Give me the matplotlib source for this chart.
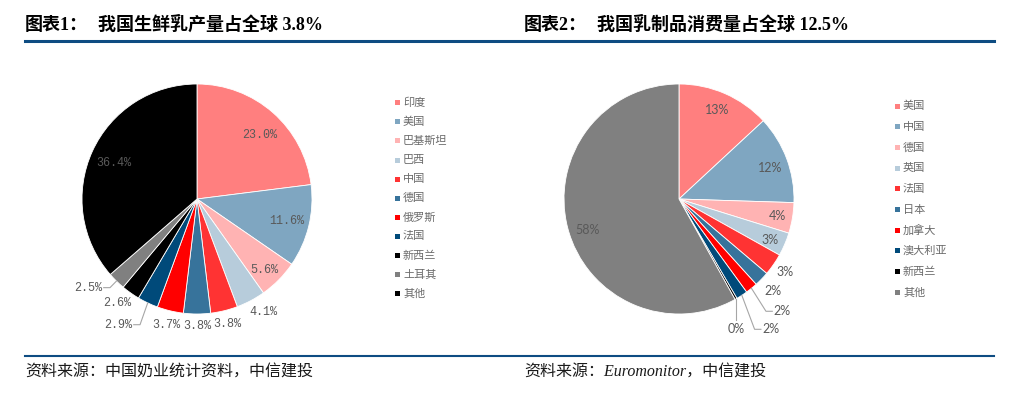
import numpy as np
import matplotlib.pyplot as plt
from matplotlib.lines import Line2D
from matplotlib.patches import Rectangle

# ---------------- 数据 ----------------
labels1 = ["印度", "美国", "巴基斯坦", "巴西", "中国", "德国", "俄罗斯",
           "法国", "新西兰", "土耳其", "其他"]
values1 = [23.0, 11.6, 5.6, 4.1, 3.8, 3.8, 3.7, 2.9, 2.6, 2.5, 36.4]

labels2 = ["美国", "中国", "德国", "英国", "法国", "日本", "加拿大",
           "澳大利亚", "新西兰", "其他"]
values2 = [13.1, 12.4, 4.3, 3.3, 3.1, 2.1, 1.7, 1.6, 0.3, 58.1]

colors1 = ["#FF7F7F", "#7FA6C1", "#FFB3B3", "#B7CCDB", "#FF3333", "#37739B",
           "#FF0000", "#004A7A", "#000000", "#808080", "#000000"]
colors2 = ["#FF7F7F", "#7FA6C1", "#FFB3B3", "#B7CCDB", "#FF3333", "#37739B",
           "#FF0000", "#004A7A", "#000000", "#808080"]

# 标签摆放: (半径, 角度偏移, 方式)
spec1 = [(0.78, -3, "c"), (0.80, 0, "c"), (0.85, -2, "c"), (1.14, 2.5, "c"),
         (1.12, 0, "c"), (1.10, 0, "c"), (1.13, 0, "c"), (1.20, 1, "left"),
         (1.14, -2.3, "c"), (1.08, 0, "left"), (0.79, 1.3, "c")]
spec2 = [(0.84, 0, "c"), (0.84, -2, "c"), (0.87, -0.5, "c"), (0.87, -1, "c"),
         (1.12, 0.4, "c"), (1.14, -0.3, "c"), (1.235, -1.3, "right"),
         (1.31, -3, "right"), (1.165, -4.3, "down"), (0.84, 4, "c")]

W, H = 1019, 394
BLUE = "#0E4C82"
GREY = "#595959"
CJK = ["Liberation Serif", "Noto Sans CJK SC"]

fig = plt.figure(figsize=(W / 100, H / 100), dpi=100)


def fx(x):
    return x / W


def fy(y):
    return 1 - y / H


def pie_axes(cx, cy, r):
    half = 1.25 * r
    return fig.add_axes([fx(cx - half), fy(cy + half), 2 * half / W, 2 * half / H])


def polar(r, ang):
    a = np.deg2rad(ang)
    return r * np.cos(a), r * np.sin(a)


def draw_pie(ax, values, colors, spec, fmt, font, fsize):
    wedges, _ = ax.pie(values, colors=colors, startangle=90, counterclock=False,
                       wedgeprops=dict(edgecolor="white", linewidth=0.6))
    ax.set_xlim(-1.25, 1.25)
    ax.set_ylim(-1.25, 1.25)
    ax.set_aspect("equal")
    for w, v, (r, off, mode) in zip(wedges, values, spec):
        mid = (w.theta1 + w.theta2) / 2
        txt = fmt.format(v)
        kw = dict(fontsize=fsize, family=font, color=GREY)
        if mode == "c":
            x, y = polar(r, mid + off)
            ax.text(x, y, txt, ha="center", va="center", **kw)
            continue
        x0, y0 = polar(1.0, mid)
        x1, y1 = polar(r, mid + off)
        if mode == "left":
            ax.plot([x0, x1, x1 - 0.055], [y0, y1, y1], color="#A6A6A6", lw=0.8)
            ax.text(x1 - 0.065, y1, txt, ha="right", va="center", **kw)
        elif mode == "right":
            ax.plot([x0, x1, x1 + 0.055], [y0, y1, y1], color="#A6A6A6", lw=0.8)
            ax.text(x1 + 0.065, y1, txt, ha="left", va="center", **kw)
        else:
            ax.plot([x0, x0], [y0, y1], color="#A6A6A6", lw=0.8)
            ax.text(x0, y1 - 0.03, txt, ha="center", va="top", **kw)


def draw_legend(labels, colors, sq_x, txt_x, y0, dy):
    for i, (lab, c) in enumerate(zip(labels, colors)):
        y = y0 + i * dy
        fig.patches.append(Rectangle((fx(sq_x - 2.5), fy(y + 2.5)), 5 / W, 5 / H,
                                     transform=fig.transFigure, color=c, lw=0))
        fig.text(fx(txt_x), fy(y), lab, fontsize=8, family=["Noto Sans CJK SC"],
                 color="#6A6A6A", va="center", ha="left")


# ---------------- 图表1 ----------------
ax1 = pie_axes(197, 199, 115)
draw_pie(ax1, values1, colors1, spec1, "{:.1f}%", ["Liberation Mono"], 8.5)
draw_legend(labels1, colors1, 397.5, 403, 102.7, 19.1)

# ---------------- 图表2 ----------------
ax2 = pie_axes(679, 199, 115)
draw_pie(ax2, values2, colors2, spec2, "{:.0f}%", ["Lato", "DejaVu Sans"], 9)
draw_legend(labels2, colors2, 897.5, 903, 106, 20.7)

# ---------------- 标题、分隔线、来源 ----------------
tkw = dict(fontsize=13, fontweight="bold", family=CJK, va="center")
fig.text(fx(25), fy(25), "图表1：", **tkw)
fig.text(fx(98), fy(25), "我国生鲜乳产量占全球 3.8%", **tkw)
fig.text(fx(524), fy(25), "图表2：", **tkw)
fig.text(fx(597), fy(25), "我国乳制品消费量占全球 12.5%", **tkw)

fig.add_artist(Line2D([fx(25), fx(994)], [fy(40.7)] * 2, color=BLUE, lw=2.2))
fig.add_artist(Line2D([fx(25), fx(994)], [fy(356)] * 2, color=BLUE, lw=1.5))

skw = dict(fontsize=11.5, style="italic", family=CJK, va="center", color="#1A1A1A")
fig.text(fx(25), fy(373), "资料来源：中国奶业统计资料，中信建投", **skw)
fig.text(fx(524), fy(373), "资料来源：Euromonitor，中信建投", **skw)

fig.savefig("out.png", dpi=100)
